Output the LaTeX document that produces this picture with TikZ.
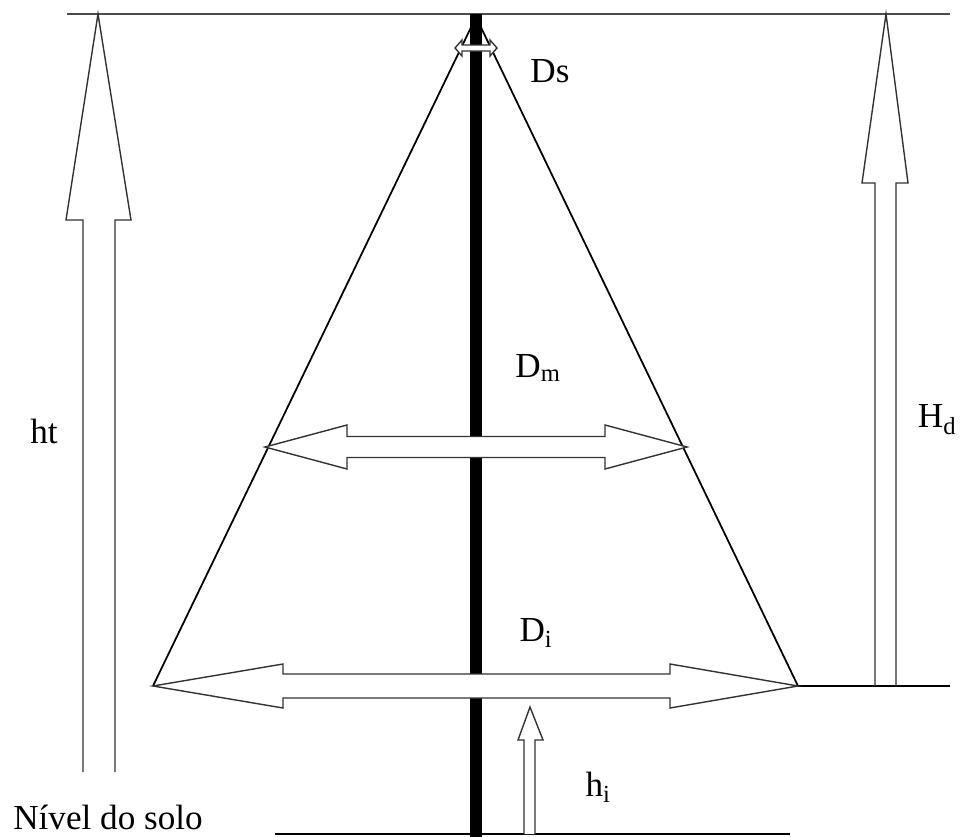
\documentclass[tikz,border=0pt]{standalone}
\usepackage{fontspec}
\setmainfont{Liberation Serif}
\usepackage{tikz}
\usetikzlibrary{positioning,calc}

\begin{document}
\begin{tikzpicture}[
  x=0.03cm, y=-0.03cm,
  font=\fontsize{30}{36}\selectfont,
  lbl/.style={inner sep=0pt, anchor=center},
  rule/.style={draw=black!70, line width=1.8pt},
  cone/.style={draw=black, line width=1.5pt},
  pole/.style={draw=black, line width=11pt},
  hollow/.style={draw=black!80, fill=white, line width=1.2pt, line join=miter}
]
\useasboundingbox (0,0) rectangle (972,837);
% reference lines
\coordinate (top l) at (67,14);
\coordinate (top r) at (950,14);
\coordinate (base l) at (798,686);
\coordinate (base r) at (950,686);
\coordinate (gnd l) at (275,834);
\coordinate (gnd r) at (790,834);
\draw[rule] (top l) -- (top r);
\draw[cone] (base l) -- (base r);
\draw[cone] (gnd l) -- (gnd r);
% stem and crown
\coordinate (stem top) at (476,14);
\coordinate (stem bot) at (476,837);
\draw[pole] (stem top) -- (stem bot);
\coordinate (apex) at (476,17);
\coordinate (crown l) at (153,686);
\coordinate (crown r) at (798,686);
\draw[cone] (crown l) -- (apex) -- (crown r);
% total height
\draw[hollow, fill=none] (83,772) -- (83,220) -- (66,220) -- (98,14) -- (131,220) -- (115,220) -- (115,772);
% crown height
\draw[hollow, fill=none] (875,686) -- (875,183) -- (862,183) -- (886,14) -- (908,183) -- (896,183) -- (896,686);
% insertion height
\draw[hollow] (524,834) -- (524,740) -- (518,740) -- (530,707) -- (543,740) -- (535,740) -- (535,834);
% diameters
\draw[hollow] (455,48) -- (462,40) -- (462,45) -- (490,45) -- (490,40) -- (497,48)
  -- (490,56) -- (490,51) -- (462,51) -- (462,56) -- cycle;
\draw[hollow] (265,447) -- (347,425) -- (347,436.5) -- (605,436.5) -- (605,425) -- (687,447)
  -- (605,469) -- (605,457.5) -- (347,457.5) -- (347,469) -- cycle;
\draw[hollow] (153,686) -- (283,664) -- (283,674) -- (670,674) -- (670,664) -- (798,686)
  -- (670,708) -- (670,698) -- (283,698) -- (283,708) -- cycle;
% labels
\node[lbl] (ds) at (550,71) {Ds};
\node[lbl] (dm) at (538,368) {D\textsubscript{m}};
\node[lbl] (di) at (536,633) {D\textsubscript{i}};
\node[lbl] (hd) at (937,420) {H\textsubscript{d}};
\node[lbl] (ht) at (44,431) {ht};
\node[lbl] (hi) at (598,787) {h\textsubscript{i}};
\node[lbl] (solo) at (108,817) {Nível do solo};
\end{tikzpicture}
\end{document}
